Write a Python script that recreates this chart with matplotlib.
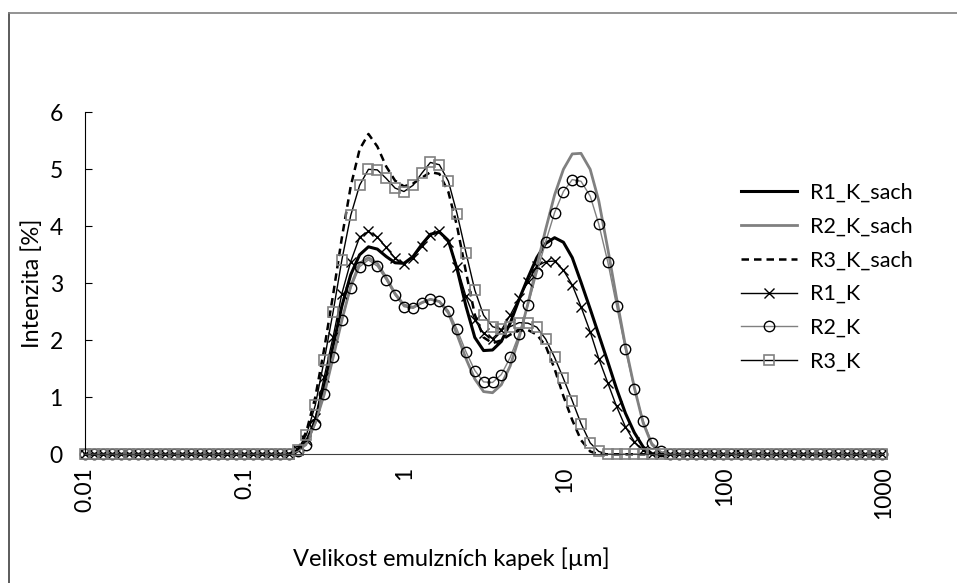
import matplotlib.pyplot as plt
from matplotlib.lines import Line2D

plt.rcParams['font.family'] = ['Lato', 'DejaVu Sans']

# size classes [um] (laser diffraction, 0.01 - 1000 um)
size_um = [0.0100, 0.0114, 0.0129, 0.0147, 0.0167, 0.0189, 0.0215, 0.0244, 0.0278, 0.0315,
           0.0358, 0.0407, 0.0463, 0.0526, 0.0597, 0.0679, 0.0771, 0.0876, 0.0995, 0.113,
           0.128, 0.146, 0.166, 0.188, 0.214, 0.243, 0.276, 0.314, 0.357, 0.405,
           0.460, 0.523, 0.594, 0.675, 0.767, 0.872, 0.991, 1.13, 1.28, 1.45,
           1.65, 1.88, 2.13, 2.42, 2.75, 3.12, 3.55, 4.03, 4.58, 5.21,
           5.92, 6.72, 7.64, 8.68, 9.86, 11.2, 12.7, 14.5, 16.4, 18.7,
           21.2, 24.1, 27.4, 31.1, 35.3, 40.1, 45.6, 51.8, 58.9, 66.9,
           76.0, 86.4, 98.1, 111, 127, 144, 163, 186, 211, 240,
           272, 310, 352, 400, 454, 516, 586, 666, 756, 859, 976]

# intensity [%]; the first 23 and last 24 classes are empty
r1_k_sach = [0.0] * 23 + [
    0.0, 0.07, 0.22, 0.58, 1.2, 1.9, 2.6, 3.15, 3.5, 3.64, 3.6, 3.47, 3.36, 3.35, 3.47,
    3.68, 3.86, 3.9, 3.75, 3.25, 2.6, 2.05, 1.82, 1.83, 1.98, 2.3, 2.72, 3.1, 3.45, 3.7,
    3.8, 3.72, 3.45, 3.02, 2.55, 2.1, 1.62, 1.15, 0.72, 0.38, 0.13, 0.01, 0.0, 0.0] + [0.0] * 24
r2_k_sach = [0.0] * 23 + [
    0.0, 0.05, 0.2, 0.55, 1.05, 1.7, 2.35, 2.95, 3.35, 3.45, 3.35, 3.1, 2.82, 2.62, 2.58,
    2.66, 2.72, 2.68, 2.48, 2.1, 1.68, 1.32, 1.1, 1.08, 1.22, 1.55, 2.05, 2.65, 3.3, 3.95,
    4.55, 5.0, 5.27, 5.28, 5.0, 4.45, 3.6, 2.74, 1.9, 1.17, 0.55, 0.17, 0.02, 0.0] + [0.0] * 24
r3_k_sach = [0.0] * 23 + [
    0.0, 0.08, 0.4, 1.0, 1.85, 2.8, 3.8, 4.7, 5.35, 5.62, 5.4, 5.05, 4.8, 4.7, 4.75,
    4.85, 4.95, 4.92, 4.6, 4.0, 3.2, 2.45, 2.05, 1.95, 2.0, 2.1, 2.17, 2.18, 2.1, 1.9,
    1.5, 1.02, 0.6, 0.25, 0.05, 0.0, 0.0, 0.0, 0.0, 0.0, 0.0, 0.0, 0.0, 0.0] + [0.0] * 24
r1_k = [0.0] * 23 + [
    0.0, 0.08, 0.25, 0.63, 1.36, 2.06, 2.82, 3.38, 3.81, 3.91, 3.81, 3.63, 3.44, 3.34, 3.45,
    3.65, 3.85, 3.91, 3.73, 3.29, 2.77, 2.36, 2.12, 2.03, 2.18, 2.44, 2.74, 3.03, 3.30, 3.38,
    3.39, 3.23, 2.97, 2.59, 2.15, 1.68, 1.25, 0.84, 0.48, 0.22, 0.07, 0.0, 0.0, 0.0] + [0.0] * 24
r2_k = [0.0] * 23 + [
    0.0, 0.05, 0.16, 0.53, 1.06, 1.70, 2.36, 2.91, 3.29, 3.41, 3.30, 3.06, 2.79, 2.59, 2.56,
    2.65, 2.72, 2.69, 2.52, 2.19, 1.80, 1.47, 1.27, 1.26, 1.40, 1.70, 2.11, 2.62, 3.18, 3.73,
    4.24, 4.61, 4.82, 4.79, 4.53, 4.04, 3.37, 2.61, 1.84, 1.15, 0.59, 0.20, 0.05, 0.0] + [0.0] * 24
r3_k = [0.0] * 23 + [
    0.0, 0.08, 0.34, 0.86, 1.65, 2.50, 3.41, 4.19, 4.72, 5.0, 4.99, 4.84, 4.67, 4.61, 4.72,
    4.93, 5.12, 5.08, 4.79, 4.22, 3.54, 2.88, 2.44, 2.24, 2.19, 2.24, 2.31, 2.30, 2.23, 2.02,
    1.70, 1.33, 0.94, 0.54, 0.20, 0.05, 0.0, 0.0, 0.0, 0.0, 0.0, 0.0, 0.0, 0.0] + [0.0] * 24

GRAY = '#808080'
FS_TICK = 16.5
FS_LABEL = 17
FS_LEG = 15.5

fig = plt.figure(figsize=(9.57, 5.83), dpi=100)
ax = fig.add_axes([85 / 957, 1 - 454.3 / 583, (884 - 85) / 957, (454.3 - 112.3) / 583])

ax.plot(size_um, r1_k_sach, color='black', lw=2.2, label='R1_K_sach', clip_on=False)
ax.plot(size_um, r2_k_sach, color=GRAY, lw=2.0, label='R2_K_sach', clip_on=False)
ax.plot(size_um, r3_k_sach, color='black', lw=1.8, ls=(0, (3, 2)), label='R3_K_sach', clip_on=False)
ax.plot(size_um, r1_k, color='black', lw=1.0, marker='x', ms=7, mew=1.0,
        label='R1_K', clip_on=False)
ax.plot(size_um, r2_k, color=GRAY, lw=1.0, marker='o', ms=7.5, mfc='none', mec='black',
        mew=1.0, label='R2_K', clip_on=False)
ax.plot(size_um, r3_k, color='black', lw=1.0, marker='s', ms=7, mfc='none', mec=GRAY,
        mew=1.2, label='R3_K', clip_on=False)

ax.set_xscale('log')
ax.set_xlim(0.01, 1000)
ax.set_ylim(0, 6)
ax.set_xticks([0.01, 0.1, 1, 10, 100, 1000])
ax.set_xticklabels(['0.01', '0.1', '1', '10', '100', '1000'], rotation=90, fontsize=FS_TICK)
ax.minorticks_off()
ax.tick_params(axis='x', length=0, pad=9)
ax.tick_params(axis='y', direction='in', length=5, labelsize=FS_TICK, pad=16)
ax.set_yticks(range(7))

for s in ['top', 'right']:
    ax.spines[s].set_visible(False)
ax.spines['left'].set_color('black')
ax.spines['bottom'].set_color('#404040')

ax.set_ylabel('Intenzita [%]', fontsize=FS_LABEL)
ax.yaxis.set_label_coords(-0.053, 0.5)
ax.set_xlabel('Velikost emulzních kapek [µm]', fontsize=FS_LABEL)
ax.xaxis.set_label_coords(0.459, -0.272)

ax.legend(loc='upper left', bbox_to_anchor=(730 / 957, 1 - 172 / 583),
          bbox_transform=fig.transFigure, frameon=False, fontsize=FS_LEG,
          handlelength=2.6, handletextpad=0.6, labelspacing=0.64, borderpad=0, numpoints=1)

# chart area border
fig.add_artist(Line2D([9 / 957, 9 / 957], [0, 1 - 13 / 583], color='#404040', lw=1.2))
fig.add_artist(Line2D([9 / 957, 1], [1 - 13 / 583, 1 - 13 / 583], color='#808080', lw=1.2))

fig.savefig('out.png', dpi=100)
